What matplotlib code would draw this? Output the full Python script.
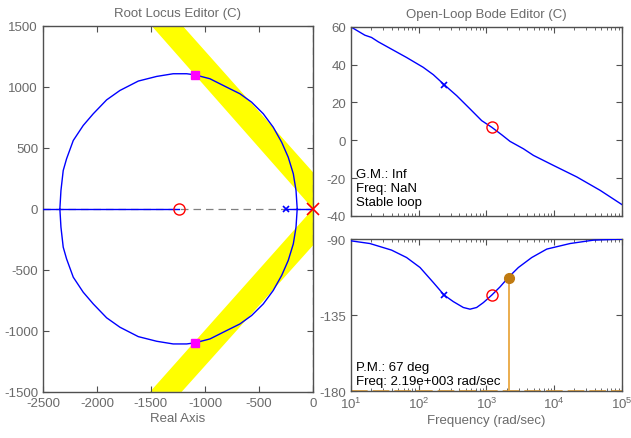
import matplotlib.pyplot as plt
import numpy as np
from matplotlib.ticker import LogLocator, NullFormatter

plt.rcParams['font.family'] = ['Liberation Sans', 'DejaVu Sans']
plt.rcParams['font.size'] = 9
plt.rcParams['axes.unicode_minus'] = False

# root locus branches
upper_re = [-2343, -2333, -2312, -2281, -2219, -2127, -2034, -1910, -1787,
            -1617, -1447, -1294, -1169, -1093, -954, -799, -676, -568,
            -460, -368, -290, -229, -182, -157, -146]
upper_im = [0, 150, 314, 410, 560, 683, 779, 893, 970,
            1047, 1085, 1107, 1107, 1098, 1066, 997, 943, 874,
            779, 669, 546, 423, 287, 150, 0]
lower_re = [-2343, -2333, -2312, -2281, -2219, -2127, -2034, -1910, -1787,
            -1617, -1447, -1294, -1169, -1093, -954, -799, -676, -568,
            -460, -368, -290, -229, -182, -157, -146]
lower_im = [0, -150, -314, -410, -560, -683, -779, -893, -970,
            -1047, -1085, -1107, -1107, -1098, -1066, -997, -943, -874,
            -779, -669, -546, -423, -287, -150, 0]

# real-axis segments
seg_left_re = [-2500, -1238]
seg_right_re = [-250, 0]

# poles / zeros
comp_pole_re, comp_pole_im = [0], [0]
comp_zero_re, comp_zero_im = [-1238], [0]
plant_pole_re, plant_pole_im = [-250], [0]
cl_pole_re = [-1095, -1095]
cl_pole_im = [1098, -1098]

# damping constraint bands
band_up_re = [-1494, -1207, 0, 0]
band_up_im = [1500, 1500, 300, 0]
band_lo_re = [-1509, -1216, 0, 0]
band_lo_im = [-1500, -1500, -300, 0]

# bode magnitude
mag_w = [10, 16.1, 20.2, 25.4, 39.9, 66.5, 117, 165, 239, 365, 574,
         853, 1200, 1687, 2239, 3524, 4955, 9772, 21630, 47860, 100000]
mag_db = [60, 55.6, 54.4, 52.1, 48.2, 43.8, 38.6, 34.7, 29.4, 23.6, 16.6,
          10.4, 6.9, 2.9, -0.6, -4.5, -8.0, -13.3, -19.4, -26.5, -34.0]

# bode phase
ph_w = [10, 19.1, 39.9, 66.5, 105, 165, 239, 325, 457, 574, 719,
        904, 1200, 1592, 2113, 2972, 4677, 7798, 17220, 38110, 100000]
ph_deg = [-91.0, -92.6, -96.5, -100.9, -106.8, -115.7, -123.2, -127.0,
          -130.5, -131.5, -130.5, -127.6, -123.2, -118.3, -112.7, -106.8,
          -100.9, -95.9, -92.6, -90.6, -90.0]

pm_freq = 2190
pm_phase = -113

gray = '#6a6a6a'
spine = '#505050'
orange = '#e8a030'


def style(ax):
    for s in ax.spines.values():
        s.set_color(spine)
        s.set_linewidth(1.0)
    ax.tick_params(direction='in', which='both', top=True, right=True,
                   colors=spine, labelcolor=gray, labelsize=9.5)
    ax.tick_params(which='major', length=4)
    ax.tick_params(which='minor', length=2)


fig = plt.figure(figsize=(6.31, 4.39), dpi=100)

# ---- root locus ----
ax = fig.add_axes([0.068, 0.105, 0.428, 0.834])
ax.fill(band_up_re, band_up_im, color='#ffff00', lw=0, zorder=1)
ax.fill(band_lo_re, band_lo_im, color='#ffff00', lw=0, zorder=1)
ax.axhline(0, color='#808080', ls=(0, (6, 4)), lw=0.9, zorder=2)
ax.axvline(0, color='#808080', ls=(0, (6, 4)), lw=0.9, zorder=2)
ax.plot(upper_re, upper_im, color='#0000ff', lw=1, zorder=3)
ax.plot(lower_re, lower_im, color='#0000ff', lw=1, zorder=3)
ax.plot(seg_left_re, [0, 0], color='#0000ff', lw=1, zorder=3)
ax.plot(seg_right_re, [0, 0], color='#0000ff', lw=1, zorder=3)
ax.plot(plant_pole_re, plant_pole_im, 'x', color='#0000ff', ms=5, mew=1.2, zorder=4)
ax.plot(comp_pole_re, comp_pole_im, 'x', color='#ff0000', ms=8, mew=1.2,
        zorder=5, clip_on=False)
ax.plot(comp_zero_re, comp_zero_im, 'o', mfc='none', mec='#ff0000', ms=8,
        mew=1.0, zorder=4)
ax.plot(cl_pole_re, cl_pole_im, 's', color='#ff00ff', ms=6, zorder=5)
ax.set_xlim(-2500, 0)
ax.set_ylim(-1500, 1500)
ax.set_xticks(np.arange(-2500, 1, 500))
ax.set_yticks(np.arange(-1500, 1501, 500))
ax.set_title('Root Locus Editor (C)', color=gray, fontsize=9.5, pad=7)
ax.set_xlabel('Real Axis', color=gray, fontsize=9.5, labelpad=2)
style(ax)

# ---- bode magnitude ----
am = fig.add_axes([0.556, 0.506, 0.4295, 0.4305])
am.semilogx(mag_w, mag_db, color='#0000ff', lw=1)
am.plot([239], [29.4], 'x', color='#0000ff', ms=5, mew=1.2)
am.plot([1200], [6.9], 'o', mfc='none', mec='#ff0000', ms=8, mew=1.0)
am.set_xlim(10, 1e5)
am.set_ylim(-40, 60)
am.set_yticks(np.arange(-40, 61, 20))
am.xaxis.set_minor_locator(LogLocator(base=10, subs=np.arange(2, 10), numticks=20))
am.xaxis.set_minor_formatter(NullFormatter())
am.set_xticklabels([])
am.set_title('Open-Loop Bode Editor (C)', color=gray, fontsize=9.5, pad=7)
am.text(0.02, 0.205, 'G.M.: Inf', transform=am.transAxes, fontsize=9.5)
am.text(0.02, 0.13, 'Freq: NaN', transform=am.transAxes, fontsize=9.5)
am.text(0.02, 0.055, 'Stable loop', transform=am.transAxes, fontsize=9.5)
style(am)
am.tick_params(labelbottom=False)

# ---- bode phase ----
ap = fig.add_axes([0.556, 0.107, 0.4295, 0.346])
ap.axhline(-180, color=orange, ls=(0, (10, 3)), lw=1.2, zorder=2)
ap.semilogx(ph_w, ph_deg, color='#0000ff', lw=1, zorder=3)
ap.plot([239], [-123.2], 'x', color='#0000ff', ms=5, mew=1.2, zorder=4)
ap.plot([1200], [-123.2], 'o', mfc='none', mec='#ff0000', ms=8, mew=1.0, zorder=4)
ap.vlines(pm_freq, -180, pm_phase, color=orange, lw=1.2, zorder=3)
ap.plot([pm_freq], [pm_phase], 'o', color='#c07a10', ms=7, zorder=5)
ap.set_xlim(10, 1e5)
ap.set_ylim(-180, -90)
ap.set_yticks([-180, -135, -90])
ap.xaxis.set_minor_locator(LogLocator(base=10, subs=np.arange(2, 10), numticks=20))
ap.xaxis.set_minor_formatter(NullFormatter())
ap.set_xlabel('Frequency (rad/sec)', color=gray, fontsize=9.5, labelpad=2)
ap.text(0.02, 0.14, 'P.M.: 67 deg', transform=ap.transAxes, fontsize=9.5)
ap.text(0.02, 0.045, 'Freq: 2.19e+003 rad/sec', transform=ap.transAxes, fontsize=9.5)
style(ap)

fig.savefig('out.png', dpi=100)
